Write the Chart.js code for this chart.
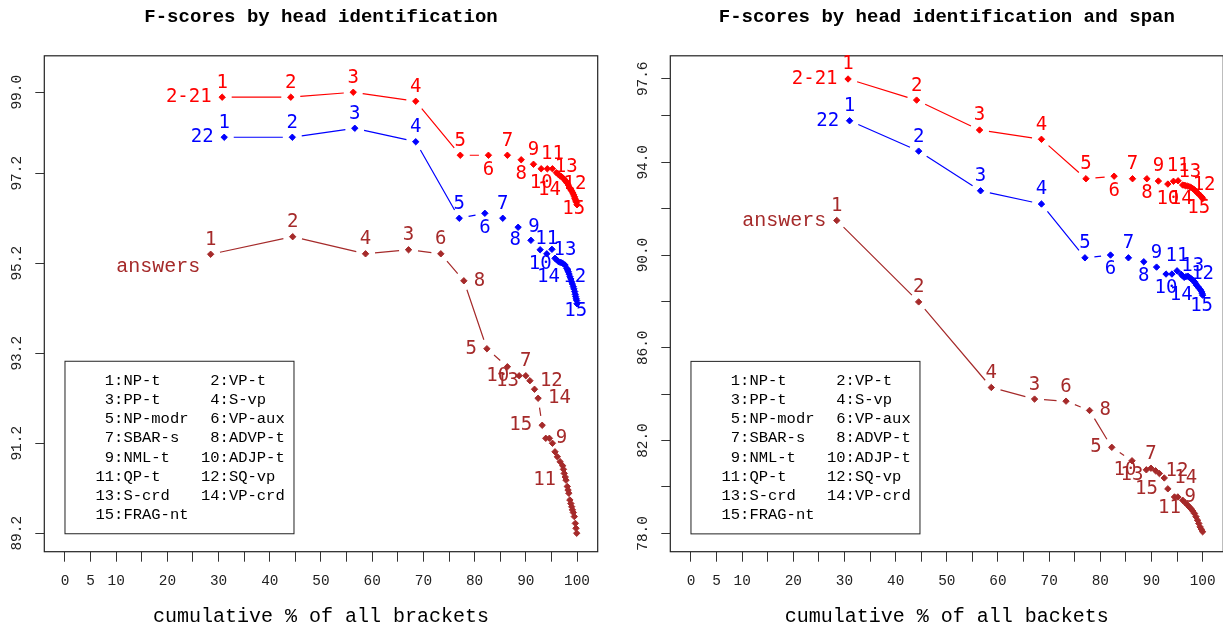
<!DOCTYPE html>
<html>
<head>
<meta charset="utf-8">
<title>F-scores by head identification</title>
<script src="https://cdn.jsdelivr.net/npm/chart.js@4.4.1/dist/chart.umd.min.js"></script>
<style>
  html, body { margin: 0; padding: 0; background: #fff; width: 1223px; height: 630px; overflow: hidden; }
  canvas { position: absolute; top: 0; }
  #cHead { left: 0; }
  #cSpan { left: 620px; }
</style>
</head>
<body>
<canvas id="cHead" width="620" height="630"></canvas>
<canvas id="cSpan" width="604" height="630"></canvas>
<script>
const MONO = "'Liberation Mono', 'Courier New', monospace";
const SANSMONO = "'DejaVu Sans Mono', monospace";

// x axis (cumulative % of brackets)
const xTicks = [0, 5, 10, 15, 20, 25, 30, 35, 40, 45, 50, 55, 60, 65, 70, 75, 80, 85, 90, 95, 100];
const xLabeled = [0, 5, 10, 20, 30, 40, 50, 60, 70, 80, 90, 100];

// legend names, category 1..15
const keyNames = ['NP-t', 'VP-t', 'PP-t', 'S-vp', 'NP-modr', 'VP-aux', 'SBAR-s', 'ADVP-t',
  'NML-t', 'ADJP-t', 'QP-t', 'SQ-vp', 'S-crd', 'VP-crd', 'FRAG-nt'];

// ---- left panel: head identification ----
const headYTicks = [89.2, 91.2, 93.2, 95.2, 97.2, 99.0];
const headYLabeled = [89.2, 91.2, 93.2, 95.2, 97.2, 99.0];

const headWsjX = [30.7, 44.1, 56.3, 68.5, 77.2, 82.7, 86.4, 89.1, 91.5, 93.0, 94.2, 95.2, 96.0, 96.3, 96.6, 96.9, 97.2,
  97.5, 97.7, 97.9, 98.1, 98.3, 98.5, 98.7, 98.8, 99.0, 99.2, 99.35, 99.5, 99.6, 99.7, 99.8, 99.9, 100];
const headWsjY = [98.89, 98.89, 99.00, 98.80, 97.60, 97.60, 97.60, 97.50, 97.40, 97.30, 97.30, 97.30, 97.21, 97.18, 97.15,
  97.13, 97.10, 97.07, 97.04, 97.01, 96.98, 96.94, 96.89, 96.86, 96.83, 96.80, 96.76, 96.72, 96.68, 96.64, 96.61, 96.58, 96.55, 96.50];
const headWsjTagPt = [0, 1, 2, 3, 4, 5, 6, 7, 8, 9, 11, 29, 19, 24, 27];
const headWsjTagSide = ['t', 't', 't', 't', 't', 'b', 't', 'b', 't', 'b', 't', 't', 't', 'l', 'b'];

const headDevX = [31.1, 44.4, 56.6, 68.5, 77.0, 82.0, 85.5, 88.5, 91.0, 92.8, 94.1, 95.1, 95.7, 96.0, 96.35, 96.7, 97.0,
  97.3, 97.66, 97.98, 98.15, 98.3, 98.45, 98.63, 98.8, 98.96, 99.1, 99.28, 99.4, 99.55, 99.65, 99.74, 99.84, 99.94, 100];
const headDevY = [98.0, 98.0, 98.2, 97.9, 96.2, 96.31, 96.2, 96.0, 95.71, 95.50, 95.41, 95.51, 95.31, 95.28, 95.24, 95.22,
  95.21, 95.19, 95.16, 95.09, 95.05, 95.01, 94.96, 94.90, 94.85, 94.79, 94.74, 94.68, 94.63, 94.57, 94.51, 94.46, 94.41, 94.37, 94.30];
const headDevTagPt = [0, 1, 2, 3, 4, 5, 6, 8, 7, 9, 10, 29, 18, 23, 31];
const headDevTagSide = ['t', 't', 't', 't', 't', 'b', 't', 'l', 'r', 'b', 't', 't', 't', 'l', 'b'];

const headAnsX = [28.45, 44.47, 58.7, 67.1, 73.4, 77.9, 82.4, 86.4, 88.7, 90.0, 90.8, 91.7, 92.4, 93.2, 93.9, 94.6, 95.2,
  95.7, 96.15, 96.7, 97.2, 97.35, 97.5, 97.7, 97.85, 98.1, 98.25, 98.4, 98.6, 98.8, 98.96, 99.1, 99.28, 99.47, 99.67, 99.8, 99.94];
const headAnsY = [95.40, 95.79, 95.41, 95.50, 95.41, 94.81, 93.30, 92.90, 92.70, 92.70, 92.59, 92.40, 92.20, 91.60, 91.31,
  91.31, 91.20, 91.01, 90.90, 90.79, 90.70, 90.62, 90.53, 90.45, 90.38, 90.24, 90.16, 90.09, 89.94, 89.86, 89.79, 89.72, 89.66,
  89.57, 89.42, 89.31, 89.20];
const headAnsTagPt = [0, 1, 3, 2, 6, 4, 9, 5, 14, 8, 24, 10, 7, 12, 13];
const headAnsTagSide = ['t', 't', 't', 't', 'l', 't', 't', 'r', 'r', 'l', 'l', 'r', 'b', 'r', 'l'];

// ---- right panel: head identification and span ----
const spanYTicks = [78, 80, 82, 84, 86, 88, 90, 92, 94, 96, 97.6];
const spanYLabeled = [78, 82, 86, 90, 94, 97.6];

const spanWsjX = [30.7, 44.1, 56.4, 68.5, 77.2, 82.7, 86.3, 89.1, 91.35, 93.2, 94.3, 95.2, 96.1, 96.4, 96.7, 97.1, 97.5,
  97.8, 98.05, 98.3, 98.6, 98.8, 99.0, 99.25, 99.5, 99.7, 99.9, 100];
const spanWsjY = [97.59, 96.68, 95.39, 94.99, 93.29, 93.40, 93.29, 93.29, 93.19, 93.06, 93.18, 93.20, 93.02, 93.01, 92.99,
  92.97, 92.94, 92.90, 92.87, 92.83, 92.77, 92.73, 92.68, 92.63, 92.58, 92.53, 92.49, 92.43];
const spanWsjTagPt = [0, 1, 2, 3, 4, 5, 6, 7, 8, 9, 11, 12, 16, 27, 23];
const spanWsjTagSide = ['t', 't', 't', 't', 't', 'b', 't', 'b', 't', 'b', 't', 'r', 't', 'l', 'b'];

const spanDevX = [31.0, 44.5, 56.6, 68.5, 77.0, 82.0, 85.5, 88.5, 91.0, 92.85, 94.0, 95.0, 95.8, 96.1, 96.4, 96.75, 97.1,
  97.4, 97.7, 98.05, 98.4, 98.6, 98.8, 99.1, 99.35, 99.6, 99.8, 99.9, 100];
const spanDevY = [95.79, 94.48, 92.77, 92.2, 89.88, 90.0, 89.88, 89.71, 89.48, 89.18, 89.18, 89.32, 89.17, 89.10, 89.04,
  89.07, 89.09, 89.04, 88.99, 88.92, 88.85, 88.78, 88.70, 88.63, 88.56, 88.49, 88.42, 88.35, 88.27];
const spanDevTagPt = [0, 1, 2, 3, 4, 5, 6, 7, 8, 9, 11, 12, 19, 28, 26];
const spanDevTagSide = ['t', 't', 't', 't', 't', 'b', 't', 'b', 't', 'b', 't', 'r', 't', 'l', 'b'];

const spanAnsX = [28.5, 44.5, 58.7, 67.15, 73.3, 77.9, 82.25, 86.2, 89.0, 89.9, 90.8, 91.55, 92.5, 93.2, 94.5, 95.15, 96.1,
  96.6, 97.1, 97.4, 97.7, 98.05, 98.4, 98.7, 99.0, 99.25, 99.5, 99.75, 100];
const spanAnsY = [91.49, 87.98, 84.29, 83.79, 83.70, 83.30, 81.71, 81.13, 80.74, 80.81, 80.70, 80.58, 80.39, 79.92, 79.57,
  79.57, 79.43, 79.32, 79.21, 79.14, 79.07, 78.97, 78.86, 78.72, 78.57, 78.43, 78.28, 78.18, 78.07];
const spanAnsTagPt = [0, 1, 3, 2, 6, 4, 9, 5, 14, 8, 20, 10, 7, 12, 13];
const spanAnsTagSide = ['t', 't', 't', 't', 'l', 't', 't', 'r', 'r', 'l', 'l', 'r', 'b', 'r', 'l'];

const RED = '#ff0000', BLUE = '#0000ff', BROWN = '#a52a2a';

// box round the plot area
const framePlugin = {
  id: 'frame',
  beforeDatasetsDraw(chart) {
    const {ctx, chartArea: a} = chart;
    ctx.save();
    ctx.strokeStyle = '#222';
    ctx.lineWidth = 1.2;
    ctx.strokeRect(a.left, a.top, a.right - a.left, a.bottom - a.top);
    ctx.restore();
  }
};

// lines between points, with a gap round each point
const gapLinePlugin = {
  id: 'gapLines',
  beforeDatasetsDraw(chart) {
    const ctx = chart.ctx, gap = 9.5;
    chart.data.datasets.forEach((ds, i) => {
      const pts = chart.getDatasetMeta(i).data;
      ctx.save();
      ctx.strokeStyle = ds.borderColor;
      ctx.lineWidth = 1.2;
      ctx.beginPath();
      for (let k = 1; k < pts.length; k++) {
        const a = pts[k - 1], b = pts[k];
        const dx = b.x - a.x, dy = b.y - a.y, len = Math.hypot(dx, dy);
        if (len <= 2 * gap) continue;
        const ux = dx / len, uy = dy / len;
        ctx.moveTo(a.x + ux * gap, a.y + uy * gap);
        ctx.lineTo(b.x - ux * gap, b.y - uy * gap);
      }
      ctx.stroke();
      ctx.restore();
    });
  }
};

// category numbers next to points + series name
const tagPlugin = {
  id: 'tags',
  afterDatasetsDraw(chart) {
    const ctx = chart.ctx;
    chart.data.datasets.forEach((ds, i) => {
      const pts = chart.getDatasetMeta(i).data;
      ctx.save();
      ctx.fillStyle = ds.borderColor;
      ctx.textBaseline = 'middle';
      ctx.font = '19px ' + SANSMONO;
      ds.tagPt.forEach((k, c) => {
        const pt = pts[k], side = ds.tagSide[c];
        let x = pt.x, y = pt.y;
        if (side === 't') { y -= 14.5; ctx.textAlign = 'center'; }
        else if (side === 'b') { y += 14.5; ctx.textAlign = 'center'; }
        else if (side === 'l') { x -= 10; ctx.textAlign = 'right'; }
        else { x += 10; ctx.textAlign = 'left'; }
        ctx.fillText(String(c + 1), x, y);
      });
      const p0 = pts[0];
      ctx.font = ds.nameFont;
      ctx.textAlign = 'right';
      ctx.fillText(ds.label, p0.x - 10.5, p0.y + ds.nameDy);
      ctx.restore();
    });
  }
};

// title above the box, centred on it
const headTitlePlugin = {
  id: 'headTitle',
  afterDraw(chart, args, o) {
    const {ctx, chartArea: a} = chart;
    ctx.save();
    ctx.fillStyle = '#000';
    ctx.font = 'bold 19px ' + MONO;
    ctx.textAlign = 'center';
    ctx.textBaseline = 'middle';
    ctx.fillText(o.text, (a.left + a.right) / 2, 17.4);
    ctx.restore();
  }
};

// category key in the lower left corner
const keyPlugin = {
  id: 'keybox',
  afterDraw(chart, args, o) {
    const {ctx, scales: {x, y}} = chart;
    const left = x.getPixelForValue(0);
    const bottom = y.getPixelForValue(o.yAt) + 0.5;
    const w = 229, h = 172.5, top = bottom - h;
    ctx.save();
    ctx.strokeStyle = '#222';
    ctx.lineWidth = 1;
    ctx.strokeRect(left, top, w, h);
    ctx.fillStyle = '#000';
    ctx.font = '15.5px ' + MONO;
    ctx.textBaseline = 'middle';
    ctx.textAlign = 'left';
    keyNames.forEach((n, i) => {
      const row = Math.floor(i / 2), col = i % 2;
      const txt = String(i + 1).padStart(2, ' ') + ':' + n;
      ctx.fillText(txt, left + (col ? 136 : 30.5), top + 19.4 + row * 19.2);
    });
    ctx.restore();
  }
};

function makeSeries(name, color, xs, ys, tagPt, tagSide, nameFont, nameDy) {
  return {
    label: name,
    data: xs.map((v, i) => ({x: v, y: ys[i]})),
    showLine: false,
    pointStyle: 'rectRot',
    pointRadius: 3.2,
    pointBorderWidth: 1,
    pointBackgroundColor: color,
    pointBorderColor: color,
    borderColor: color,
    clip: false,
    tagPt: tagPt,
    tagSide: tagSide,
    nameFont: nameFont,
    nameDy: nameDy
  };
}

function panel(id, p) {
  return new Chart(document.getElementById(id), {
    type: 'scatter',
    data: {datasets: p.series},
    options: {
      responsive: false,
      animation: false,
      events: [],
      layout: {autoPadding: false, padding: {left: 0, right: p.padRight, top: 55.8, bottom: 0}},
      plugins: {
        legend: {display: false},
        tooltip: {enabled: false},
        headTitle: {text: p.title},
        keybox: {yAt: p.yTicks[0]}
      },
      scales: {
        x: {
          type: 'linear', min: -4.04, max: 104.04,
          afterBuildTicks: s => { s.ticks = xTicks.map(v => ({value: v})); },
          afterFit: s => { s.height = 78.3; s.paddingLeft = 0; s.paddingRight = 0; },
          ticks: {
            autoSkip: false, maxRotation: 0, padding: 11, color: '#222',
            font: {family: MONO, size: 14.4},
            callback: v => xLabeled.includes(v) ? String(v) : ''
          },
          grid: {drawOnChartArea: false, drawTicks: true, tickLength: 10, color: '#333', lineWidth: 1},
          border: {display: false},
          title: {display: true, text: p.xTitle, color: '#000', font: {family: MONO, size: 20}, padding: {top: 0, bottom: 1}}
        },
        y: {
          type: 'linear', min: p.yMin, max: p.yMax,
          afterBuildTicks: s => { s.ticks = p.yTicks.map(v => ({value: v})); },
          afterFit: s => { s.width = p.yWidth; },
          ticks: {
            autoSkip: false, minRotation: 90, maxRotation: 90, crossAlign: 'center', padding: 1, color: '#222',
            font: {family: MONO, size: 14.4},
            callback: v => p.yLabeled.includes(v) ? v.toFixed(1) : ''
          },
          grid: {drawOnChartArea: false, drawTicks: true, tickLength: 9, color: '#333', lineWidth: 1},
          border: {display: false}
        }
      }
    },
    plugins: [framePlugin, gapLinePlugin, tagPlugin, headTitlePlugin, keyPlugin]
  });
}

panel('cHead', {
  title: 'F-scores by head identification',
  xTitle: 'cumulative % of all brackets',
  yMin: 88.79, yMax: 99.81, yTicks: headYTicks, yLabeled: headYLabeled,
  yWidth: 44.3, padRight: 22.3,
  series: [
    makeSeries('2-21', RED, headWsjX, headWsjY, headWsjTagPt, headWsjTagSide, '19px ' + SANSMONO, 0),
    makeSeries('22', BLUE, headDevX, headDevY, headDevTagPt, headDevTagSide, '19px ' + SANSMONO, 0),
    makeSeries('answers', BROWN, headAnsX, headAnsY, headAnsTagPt, headAnsTagSide, '20px ' + MONO, 12)
  ]
});

panel('cSpan', {
  title: 'F-scores by head identification and span',
  xTitle: 'cumulative % of all backets',
  yMin: 77.21, yMax: 98.59, yTicks: spanYTicks, yLabeled: spanYLabeled,
  yWidth: 50.3, padRight: 0.7,
  series: [
    makeSeries('2-21', RED, spanWsjX, spanWsjY, spanWsjTagPt, spanWsjTagSide, '19px ' + SANSMONO, 0),
    makeSeries('22', BLUE, spanDevX, spanDevY, spanDevTagPt, spanDevTagSide, '19px ' + SANSMONO, 0),
    makeSeries('answers', BROWN, spanAnsX, spanAnsY, spanAnsTagPt, spanAnsTagSide, '20px ' + MONO, 0)
  ]
});
</script>
</body>
</html>
